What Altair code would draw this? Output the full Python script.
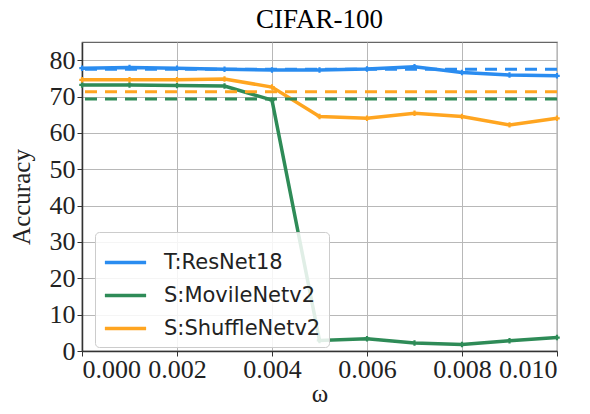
import altair as alt
import pandas as pd

omega = [0.000, 0.001, 0.002, 0.003, 0.004, 0.005, 0.006, 0.007, 0.008, 0.009, 0.010]
resnet18 = [77.8, 78.0, 77.8, 77.5, 77.3, 77.3, 77.6, 78.2, 76.6, 75.9, 75.7]
mobilenetv2 = [73.2, 73.2, 73.0, 72.9, 69.0, 2.9, 3.4, 2.2, 1.8, 2.8, 3.7]
shufflenetv2 = [74.6, 74.6, 74.6, 74.8, 72.6, 64.5, 64.0, 65.4, 64.5, 62.2, 64.0]

series_names = ["T:ResNet18", "S:MovileNetv2", "S:ShuffleNetv2"]
series_colors = ["#2a8cf0", "#2e8b57", "#ffa520"]
baselines = [77.5, 69.3, 71.3]

y_ticks = [0, 10, 20, 30, 40, 50, 60, 70, 80]
x_ticks = [0.000, 0.002, 0.004, 0.006, 0.008, 0.010]

rows = []
for name, vals in zip(series_names, [resnet18, mobilenetv2, shufflenetv2]):
    for o, v in zip(omega, vals):
        rows.append({"omega": o, "acc": v, "model": name})
df = pd.DataFrame(rows)
base_df = pd.DataFrame({"model": series_names, "base": baselines})

serif = "Liberation Serif"
color_scale = alt.Scale(domain=series_names, range=series_colors)
y_scale = alt.Scale(domain=[0, 85], nice=False)
y_axis = alt.Axis(values=y_ticks, title="Accuracy", labelOverlap=False, labelSeparation=0,
                  labelBound=False, labelFlush=False)

x_enc = alt.X(
    "omega:Q",
    scale=alt.Scale(domain=[0, 0.01], nice=False),
    axis=alt.Axis(values=x_ticks, format=".3f", title="ω", labelOverlap=False),
)

dashed = alt.Chart(base_df).mark_rule(strokeDash=[12, 8], strokeWidth=3).encode(
    y=alt.Y("base:Q", scale=y_scale, axis=y_axis),
    color=alt.Color("model:N", scale=color_scale, legend=None),
)

lines = alt.Chart(df).mark_line(strokeWidth=3.5).encode(
    x=x_enc,
    y=alt.Y("acc:Q", scale=y_scale, axis=y_axis),
    color=alt.Color(
        "model:N",
        scale=color_scale,
        sort=series_names,
        legend=alt.Legend(
            title=None,
            orient="none",
            legendX=13,
            legendY=190,
            symbolType="stroke",
            symbolSize=1700,
            symbolStrokeWidth=3.5,
            labelFont="DejaVu Sans",
            labelFontSize=21,
            labelColor="#222",
            labelOffset=16,
            rowPadding=0,
            padding=8,
            fillColor="rgba(255,255,255,0.85)",
            strokeColor="#cccccc",
            cornerRadius=4,
        ),
    ),
    order=alt.Order("omega:Q"),
)

points = alt.Chart(df).mark_point(shape="cross", size=30, filled=True, opacity=1).encode(
    x="omega:Q",
    y=alt.Y("acc:Q", scale=y_scale, axis=y_axis),
    color=alt.Color("model:N", scale=color_scale, legend=None),
)

chart = (
    alt.layer(lines, dashed, points)
    .properties(
        width=475,
        height=309,
        title=alt.TitleParams("CIFAR-100", font=serif, fontSize=27, fontWeight="normal", color="black", offset=8),
        autosize=alt.AutoSizeParams(type="none"),
        padding={"left": 82, "top": 42, "right": 33, "bottom": 63},
    )
    .configure_view(stroke="#666666", strokeWidth=1.2)
    .configure_axis(
        labelFont=serif,
        labelFontSize=26,
        labelColor="#222",
        labelOverlap=False,
        titleFont=serif,
        titleFontSize=25,
        titleFontWeight="normal",
        titleColor="#222",
        gridColor="#b8b8b8",
        gridWidth=1,
        domainColor="#333",
        domainWidth=1.5,
        tickColor="#333",
        tickSize=5,
        labelPadding=2,
    )
    .configure_axisY(titlePadding=15, labelOverlap=False)
    .configure_axisX(titlePadding=-1, labelPadding=0)
)

chart.save("out.html", embed_options={"renderer": "svg", "actions": False})
